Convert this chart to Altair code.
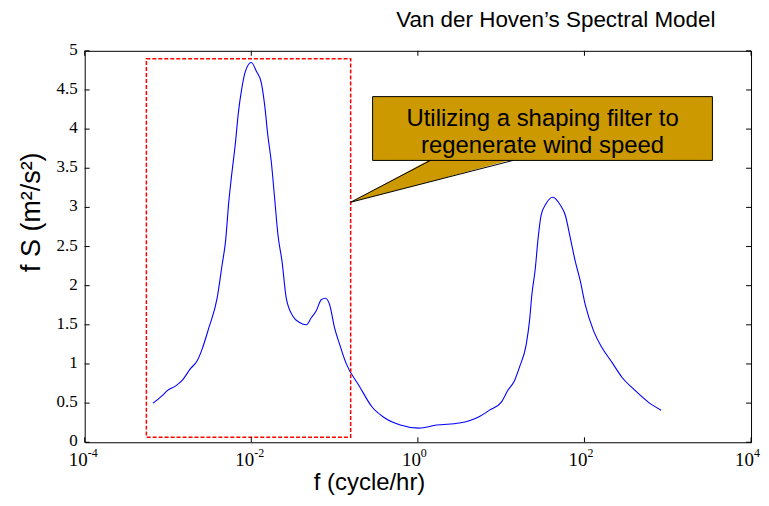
import altair as alt
import pandas as pd

# ---- data ----
freq = [6.6e-4, 8.6e-4, 9.8e-4, 1.24e-3, 1.48e-3, 1.86e-3, 2.24e-3, 2.57e-3, 3.09e-3, 3.89e-3,
        4.47e-3, 4.90e-3, 5.37e-3, 5.75e-3, 6.46e-3, 7.0e-3, 7.67e-3, 8.51e-3, 1.0e-2, 1.15e-2,
        1.32e-2, 1.45e-2, 1.58e-2, 1.74e-2, 1.91e-2, 2.09e-2, 2.34e-2, 2.63e-2, 3.16e-2, 3.80e-2,
        4.57e-2, 5.25e-2, 6.03e-2, 6.92e-2, 7.76e-2, 8.71e-2, 0.100, 0.115, 0.136, 0.200,
        0.282, 0.389, 0.617, 1.02, 1.68, 3.16, 5.50, 7.24, 10.0, 12.0,
        14.5, 16.6, 20.0, 21.9, 23.4, 25.7, 27.5, 30.2, 34.7, 41.7,
        51.3, 58.9, 67.6, 77.6, 89.1, 102, 129, 162, 214, 282,
        407, 589, 832]
fS = [0.50, 0.60, 0.66, 0.72, 0.79, 0.94, 1.04, 1.19, 1.46, 1.84,
      2.27, 2.56, 3.07, 3.37, 3.83, 4.21, 4.51, 4.74, 4.85, 4.74,
      4.59, 4.30, 3.92, 3.58, 3.11, 2.65, 2.31, 1.84, 1.61, 1.53,
      1.50, 1.59, 1.68, 1.82, 1.84, 1.76, 1.46, 1.25, 1.02, 0.71,
      0.45, 0.32, 0.22, 0.18, 0.22, 0.245, 0.33, 0.41, 0.51, 0.66,
      0.79, 0.96, 1.25, 1.55, 1.89, 2.22, 2.56, 2.90, 3.05, 3.13,
      3.03, 2.90, 2.61, 2.31, 2.06, 1.76, 1.42, 1.21, 1.02, 0.83,
      0.66, 0.51, 0.41]

x_tick_values = [1e-4, 1e-2, 1, 1e2, 1e4]
x_tick_mantissa = ["10", "10", "10", "10", "10"]
x_tick_exponent = ["-4", "-2", "0", "2", "4"]
y_ticks = [0, 0.5, 1, 1.5, 2, 2.5, 3, 3.5, 4, 4.5, 5]
y_tick_labels = ["0", "0.5", "1", "1.5", "2", "2.5", "3", "3.5", "4", "4.5", "5"]

title_text = "Van der Hoven\u2019s Spectral Model"
x_title = "f (cycle/hr)"
y_title = "f S (m\u00b2/s\u00b2)"
callout_lines = ["Utilizing a shaping filter to", "regenerate wind speed"]

# annotation geometry (data coordinates)
region_box = {"x": [5.5e-4], "x2": [0.156], "y": [0.064], "y2": [4.90]}
callout_box = {"x": [0.286], "x2": [3437], "y": [3.60], "y2": [4.415]}
pointer_x = [0.156, 1.416, 13.9]
pointer_top = [3.066, 3.615, 3.615]
pointer_bottom = [3.066, 3.328, 3.615]
pointer_edge_x = [0.156, 1.416, 0.156, 13.9]
pointer_edge_y = [3.066, 3.60, 3.066, 3.60]
pointer_edge_id = ["a", "a", "b", "b"]
callout_text_pos = {"x": [31.4], "y": [4.046]}

W, H = 669, 393

xs = alt.Scale(type="log", domain=[1e-4, 1e4], nice=False)
ys = alt.Scale(domain=[0, 5], nice=False, zero=False)

curve_df = pd.DataFrame({"f": freq, "fS": fS})
xt_df = pd.DataFrame({"v": x_tick_values, "m": x_tick_mantissa, "e": x_tick_exponent})
yt_df = pd.DataFrame({"t": y_ticks, "lab": y_tick_labels})

curve = alt.Chart(curve_df).mark_line(color="#0000FF", strokeWidth=1.1, interpolate="monotone").encode(
    x=alt.X("f:Q", scale=xs, axis=None),
    y=alt.Y("fS:Q", scale=ys, axis=None),
)

region = alt.Chart(pd.DataFrame(region_box)).mark_rect(
    filled=False, stroke="#FF0000", strokeWidth=1.5, strokeDash=[4, 2]
).encode(
    x=alt.X("x:Q", scale=xs, axis=None), x2="x2:Q",
    y=alt.Y("y:Q", scale=ys, axis=None), y2="y2:Q",
)

box = alt.Chart(pd.DataFrame(callout_box)).mark_rect(
    fill="#CC9900", stroke="black", strokeWidth=1
).encode(
    x=alt.X("x:Q", scale=xs, axis=None), x2="x2:Q",
    y=alt.Y("y:Q", scale=ys, axis=None), y2="y2:Q",
)

pointer = alt.Chart(pd.DataFrame({"x": pointer_x, "y": pointer_top, "y2": pointer_bottom})).mark_area(
    fill="#CC9900", opacity=1
).encode(
    x=alt.X("x:Q", scale=xs, axis=None),
    y=alt.Y("y:Q", scale=ys, axis=None), y2="y2:Q",
)

pointer_edges = alt.Chart(pd.DataFrame({"x": pointer_edge_x, "y": pointer_edge_y, "id": pointer_edge_id})).mark_line(
    color="black", strokeWidth=1
).encode(
    x=alt.X("x:Q", scale=xs, axis=None),
    y=alt.Y("y:Q", scale=ys, axis=None),
    detail="id:N",
)

callout_txt = alt.Chart(pd.DataFrame(callout_text_pos)).mark_text(
    text=callout_lines, font="Liberation Sans", fontSize=24, color="black",
    align="center", baseline="alphabetic", lineHeight=28
).encode(
    x=alt.X("x:Q", scale=xs, axis=None),
    y=alt.Y("y:Q", scale=ys, axis=None),
)

xtick_bottom = alt.Chart(xt_df).mark_rule(color="black", strokeWidth=1).encode(
    x=alt.X("v:Q", scale=xs, axis=None), y=alt.value(H), y2=alt.value(H - 5))
xtick_top = alt.Chart(xt_df).mark_rule(color="black", strokeWidth=1).encode(
    x=alt.X("v:Q", scale=xs, axis=None), y=alt.value(0), y2=alt.value(5))
ytick_left = alt.Chart(yt_df).mark_rule(color="black", strokeWidth=1).encode(
    y=alt.Y("t:Q", scale=ys, axis=None), x=alt.value(0), x2=alt.value(5))
ytick_right = alt.Chart(yt_df).mark_rule(color="black", strokeWidth=1).encode(
    y=alt.Y("t:Q", scale=ys, axis=None), x=alt.value(W), x2=alt.value(W - 5))

ylab = alt.Chart(yt_df).mark_text(
    font="Liberation Serif", fontSize=17, color="black", align="right", baseline="middle", dy=-1
).encode(y=alt.Y("t:Q", scale=ys, axis=None), x=alt.value(-7), text="lab:N")

xlab_m = alt.Chart(xt_df).mark_text(
    font="Liberation Serif", fontSize=19, color="black", align="right", baseline="alphabetic", dx=3
).encode(x=alt.X("v:Q", scale=xs, axis=None), y=alt.value(H + 24), text="m:N")
xlab_e = alt.Chart(xt_df).mark_text(
    font="Liberation Serif", fontSize=12, color="black", align="left", baseline="alphabetic", dx=3
).encode(x=alt.X("v:Q", scale=xs, axis=None), y=alt.value(H + 15), text="e:N")

texts_df = pd.DataFrame({"t": [title_text], "xt": [x_title], "yt": [y_title]})
title = alt.Chart(texts_df).mark_text(
    font="Liberation Sans", fontSize=22.5, color="black", align="center", baseline="alphabetic"
).encode(x=alt.value(473), y=alt.value(-24), text="t:N")
xtitle = alt.Chart(texts_df).mark_text(
    font="Liberation Sans", fontSize=24, color="black", align="center", baseline="alphabetic"
).encode(x=alt.value(286), y=alt.value(H + 48), text="xt:N")
ytitle = alt.Chart(texts_df).mark_text(
    font="Liberation Sans", fontSize=27, color="black", align="center", baseline="alphabetic", angle=270
).encode(x=alt.value(-45), y=alt.value(162), text="yt:N")

chart = alt.layer(
    curve, region, pointer, box, pointer_edges, callout_txt,
    xtick_bottom, xtick_top, ytick_left, ytick_right, ylab, xlab_m, xlab_e,
    title, xtitle, ytitle
).properties(
    width=W, height=H,
    autosize=alt.AutoSizeParams(type="none"),
    padding={"left": 77, "top": 42, "right": 10, "bottom": 60},
    background="white",
).configure_view(stroke="black", strokeWidth=1)

chart.save("out.html", embed_options={"renderer": "svg", "actions": False})
